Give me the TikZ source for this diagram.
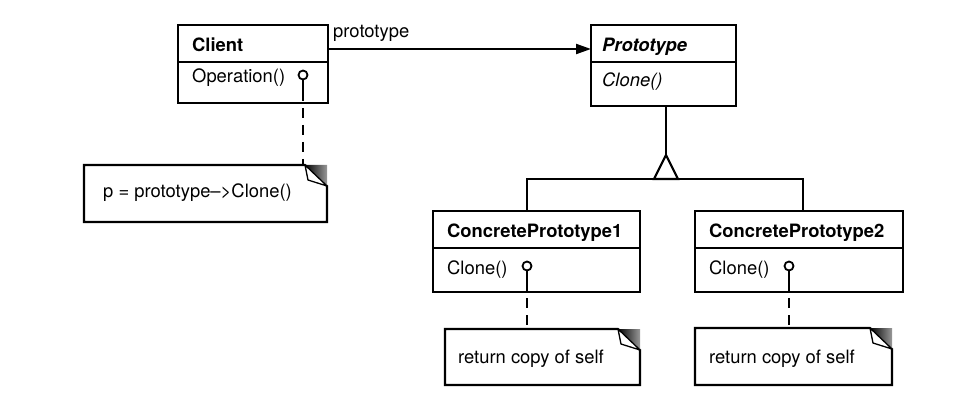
\documentclass[tikz,border=0pt]{standalone}
\usepackage{fontspec}
\setmainfont{TeX Gyre Heros}
\usetikzlibrary{arrows.meta}
\newcommand{\dfs}{\fontsize{18.4}{22}\selectfont}
\begin{document}
\begin{tikzpicture}[x=1pt,y=-1pt,
  box/.style={draw, line width=2.1pt, rectangle, inner sep=0pt, outer sep=0pt},
  notebox/.style={inner sep=0pt, outer sep=0pt},
  notepath/.style={draw, line width=2.1pt, fill=white, line join=miter},
  lbl/.style={anchor=base west, inner sep=0pt, font=\dfs},
  lolli/.style={draw, circle, line width=1.8pt, minimum size=9pt, inner sep=0pt, outer sep=0pt, fill=white},
  stem/.style={line width=1.9pt},
  dashline/.style={line width=2pt, dash pattern=on 10pt off 7pt},
  assoc/.style={line width=2.1pt, -{Triangle[length=15pt,width=10pt]}},
  inh/.style={line width=2.1pt},
]
\useasboundingbox (0,0) rectangle (972,417);

% ---------- Client ----------
\node[box, minimum width=150pt, minimum height=37pt] (clienth) at (253,43.5) {};
\node[box, minimum width=150pt, minimum height=41pt] (clientops) at (253,82.5) {};
\node[lbl] (clientname) at (192,52) {\bfseries Client};
\node[lbl] (clientop) at (192,83) {Operation()};
\node[lolli] (l0) at (303,75) {};
\coordinate (s0) at (303,91);
\draw[stem] (l0.south) -- (s0);

% ---------- Prototype ----------
\node[box, minimum width=145pt, minimum height=37pt] (protoh) at (663.5,43.5) {};
\node[box, minimum width=145pt, minimum height=44pt] (protoops) at (663.5,84) {};
\node[lbl] (protoname) at (602,52) {\bfseries\itshape Prototype};
\node[lbl] (protoop) at (602,87) {\itshape Clone()};

% ---------- ConcretePrototype1 ----------
\node[box, minimum width=207pt, minimum height=37pt] (cp1h) at (536.5,229.5) {};
\node[box, minimum width=207pt, minimum height=44pt] (cp1ops) at (536.5,270) {};
\node[lbl] (cp1name) at (447,237) {\bfseries ConcretePrototype1};
\node[lbl] (cp1op) at (447,274) {Clone()};
\node[lolli] (l1) at (527,266) {};
\coordinate (s1) at (527,281);
\draw[stem] (l1.south) -- (s1);

% ---------- ConcretePrototype2 ----------
\node[box, minimum width=208pt, minimum height=37pt] (cp2h) at (799,229.5) {};
\node[box, minimum width=208pt, minimum height=44pt] (cp2ops) at (799,270) {};
\node[lbl] (cp2name) at (709,237) {\bfseries ConcretePrototype2};
\node[lbl] (cp2op) at (709,274) {Clone()};
\node[lolli] (l2) at (789,266) {};
\coordinate (s2) at (789,281);
\draw[stem] (l2.south) -- (s2);

% ---------- notes ----------
\node[notebox, minimum width=243pt, minimum height=57pt] (n0) at (205.5,193.5) {};
\node[notebox, minimum width=195pt, minimum height=56pt] (n1) at (542.5,357) {};
\node[notebox, minimum width=197pt, minimum height=57pt] (n2) at (793.5,356.5) {};
\foreach \n in {n0,n1,n2}{
  \draw[notepath] (\n.north west) -- ([xshift=-22pt]\n.north east) -- ([yshift=-21pt]\n.north east)
     -- (\n.south east) -- (\n.south west) -- cycle;
  \shade[left color=black, right color=black!40]
     ([xshift=-22pt]\n.north east) -- (\n.north east) -- ([yshift=-21pt]\n.north east) -- cycle;
  \draw[line width=1.3pt, fill=white, line join=round]
     ([xshift=-22pt]\n.north east) -- ([xshift=-19pt,yshift=-15pt]\n.north east) -- ([yshift=-21pt]\n.north east) -- cycle;
}
\node[lbl] (n0t) at (103,197) {p = prototype–>Clone()};
\node[lbl] (n1t) at (458,363) {return copy of self};
\node[lbl] (n2t) at (709,363) {return copy of self};

% ---------- note links ----------
\draw[dashline] (s0) -- (s0 |- n0.north);
\draw[dashline] (s1) -- (s1 |- n1.north);
\draw[dashline] (s2) -- (s2 |- n2.north);

% ---------- association ----------
\coordinate (cA) at (328,49);
\draw[assoc] (cA) -- (cA -| protoh.west);
\node[lbl] (assoclbl) at (333,38) {prototype};

% ---------- inheritance ----------
\coordinate (apex) at (666,155);
\coordinate (base) at (666,179);
\draw[inh] (apex |- protoops.south) -- (apex);
\draw[inh, fill=white, line join=miter] (apex) -- ([xshift=12pt]base) -- ([xshift=-12pt]base) -- cycle;
\coordinate (j1) at (527,179);
\coordinate (j2) at (803,179);
\draw[inh] (j1 |- cp1h.north) -- (j1) -- ([xshift=-12pt]base);
\draw[inh] ([xshift=12pt]base) -- (j2) -- (j2 |- cp2h.north);
\end{tikzpicture}
\end{document}
